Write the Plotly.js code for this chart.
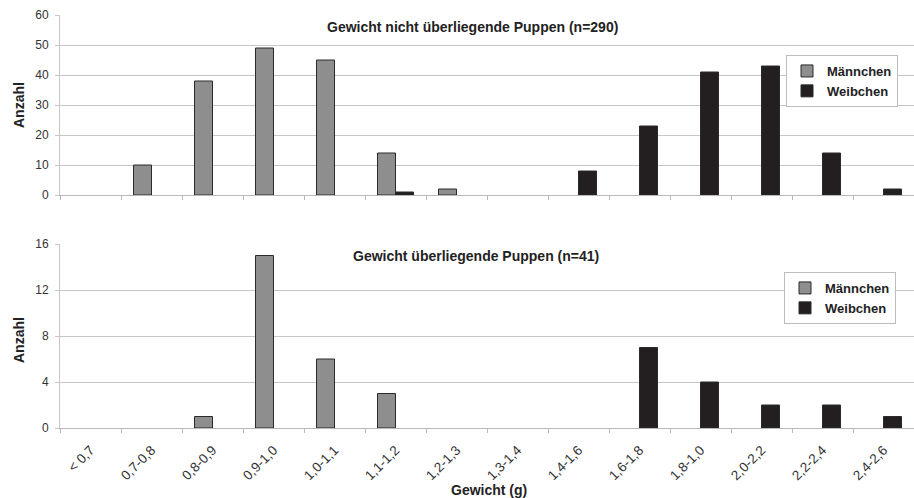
<!DOCTYPE html>
<html>
<head>
<meta charset="utf-8">
<script src="https://cdn.plot.ly/plotly-3.0.1.min.js"></script>
<style>html,body{margin:0;padding:0;background:#fff;}#chart{width:914px;height:498px;}</style>
</head>
<body>
<div id="chart"></div>
<script>
const categories = ["< 0,7","0,7-0,8","0,8-0,9","0,9-1,0","1,0-1,1","1,1-1,2","1,2-1,3","1,3-1,4","1,4-1,6","1,6-1,8","1,8-1,0","2,0-2,2","2,2-2,4","2,4-2,6"];
const topMaennchen = [0,10,38,49,45,14,2,0,0,0,0,0,0,0];
const topWeibchen  = [0,0,0,0,0,1,0,0,8,23,41,43,14,2];
const botMaennchen = [0,0,1,15,6,3,0,0,0,0,0,0,0,0];
const botWeibchen  = [0,0,0,0,0,0,0,0,0,7,4,2,2,1];
const topTitle = "Gewicht nicht überliegende Puppen (n=290)";
const botTitle = "Gewicht überliegende Puppen (n=41)";

const grayFill = "#8e8e8e", blackFill = "#231f20", outline = "#2a2a2a";
const font = "Liberation Sans, Arial, sans-serif";
// zero counts draw no bar (not even an outline)
const nz = arr => arr.map(v => v === 0 ? null : v);

const traces = [
  {type:"bar", name:"Männchen", x:categories, y:nz(topMaennchen), xaxis:"x", yaxis:"y", legend:"legend",
   marker:{color:grayFill, line:{color:outline, width:1}}},
  {type:"bar", name:"Weibchen", x:categories, y:nz(topWeibchen), xaxis:"x", yaxis:"y", legend:"legend",
   marker:{color:blackFill, line:{color:outline, width:1}}},
  {type:"bar", name:"Männchen", x:categories, y:nz(botMaennchen), xaxis:"x2", yaxis:"y2", legend:"legend2",
   marker:{color:grayFill, line:{color:outline, width:1}}},
  {type:"bar", name:"Weibchen", x:categories, y:nz(botWeibchen), xaxis:"x2", yaxis:"y2", legend:"legend2",
   marker:{color:blackFill, line:{color:outline, width:1}}}
];

const H = 498;
const yAxisCommon = {
  showgrid:true, gridcolor:"#c6c6c6", gridwidth:1, zeroline:false,
  ticks:"outside", ticklen:4, tickcolor:"#c6c6c6", showline:true, linecolor:"#c6c6c6", linewidth:1,
  ticklabelstandoff:4,
  tickfont:{family:font, size:12, color:"#333"}, fixedrange:true
};

const legendCommon = {
  bgcolor:"#fff", bordercolor:"#bdbdbd", borderwidth:1, xanchor:"right", yanchor:"top",
  font:{family:font, size:13, color:"#222", weight:"bold"}, itemwidth:30, tracegroupgap:0,
  traceorder:"normal"
};

const layout = {
  width:914, height:498,
  margin:{l:60, r:0, t:0, b:0},
  paper_bgcolor:"#fff", plot_bgcolor:"#fff",
  barmode:"group", bargap:0.41, bargroupgap:0,
  showlegend:true,
  xaxis: {type:"category", anchor:"y", domain:[0,1], range:[-0.5,13.5],
    showgrid:false, zeroline:false, showline:true, linecolor:"#b8b8b8", linewidth:1,
    ticks:"outside", ticklen:4, tickcolor:"#b8b8b8", tickson:"boundaries", showticklabels:false},
  xaxis2: {type:"category", anchor:"y2", domain:[0,1], range:[-0.5,13.5],
    showgrid:false, zeroline:false, showline:true, linecolor:"#b8b8b8", linewidth:1,
    ticks:"outside", ticklen:4, tickcolor:"#b8b8b8", tickson:"boundaries",
    showticklabels:true, tickangle:-45, ticklabelstandoff:8,
    tickfont:{family:font, size:13.5, color:"#333"}},
  yaxis: Object.assign({}, yAxisCommon, {domain:[1-195/H, 1-15/H], range:[0,60], tickvals:[0,10,20,30,40,50,60]}),
  yaxis2: Object.assign({}, yAxisCommon, {domain:[1-428/H, 1-244/H], range:[0,16], tickvals:[0,4,8,12,16]}),
  legend: Object.assign({}, legendCommon, {x:(898-60)/854, y:1-55/H}),
  legend2: Object.assign({}, legendCommon, {x:(896-60)/854, y:1-272/H}),
  annotations:[
    {text:"<b>"+topTitle+"</b>", xref:"paper", yref:"paper", x:(472-60)/854, y:1-27/H, xanchor:"center", yanchor:"middle",
     showarrow:false, font:{family:font, size:14, color:"#222"}},
    {text:"<b>"+botTitle+"</b>", xref:"paper", yref:"paper", x:(476-60)/854, y:1-256/H, xanchor:"center", yanchor:"middle",
     showarrow:false, font:{family:font, size:14, color:"#222"}},
    {text:"<b>Anzahl</b>", xref:"paper", yref:"paper", x:(19-60)/854, y:1-105/H, xanchor:"center", yanchor:"middle",
     textangle:-90, showarrow:false, font:{family:font, size:14, color:"#222"}},
    {text:"<b>Anzahl</b>", xref:"paper", yref:"paper", x:(19-60)/854, y:1-340/H, xanchor:"center", yanchor:"middle",
     textangle:-90, showarrow:false, font:{family:font, size:14, color:"#222"}},
    {text:"<b>Gewicht (g)</b>", xref:"paper", yref:"paper", x:(489-60)/854, y:1-490/H, xanchor:"center", yanchor:"middle",
     showarrow:false, font:{family:font, size:14, color:"#222"}}
  ]
};

Plotly.newPlot("chart", traces, layout, {displayModeBar:false, staticPlot:true});
</script>
</body>
</html>
